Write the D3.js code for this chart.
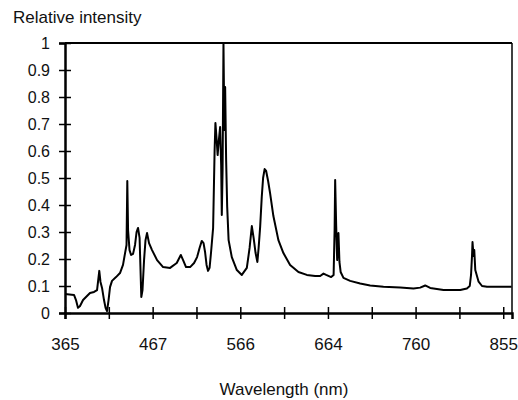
<!DOCTYPE html>
<html>
<head>
<meta charset="utf-8">
<script src="https://cdn.jsdelivr.net/npm/d3@7"></script>
<style>
  body { margin: 0; background: #fff; }
  text { font-family: "Liberation Sans", Arial, sans-serif; fill: #111; }
</style>
</head>
<body>
<svg id="chart" width="518" height="400"></svg>
<script>
// wavelength (nm) and relative intensity
var wavelength = [365, 375.5, 377.8, 380.1, 382.5, 386, 390.6, 394.1, 398.8, 402.3,
  404.9, 406.3, 408.1, 410.4, 412.2, 413.9, 415.7, 417.4, 419.7, 424.4,
  429, 432.5, 434.9, 436.6, 437.5, 438.4, 440.1, 441.9, 444.2, 446.5,
  448.3, 450, 451.8, 453.8, 455.2, 457, 458.7, 460.5, 462.8, 466.3,
  472, 478.8, 486.7, 494.2, 498.8, 501.4, 504.7, 509.3, 513.8, 517.2,
  520, 522.5, 524.5, 526.2, 527.9, 529.6, 531.3, 533, 535.3, 537,
  537.9, 539.3, 540.4, 541.5, 543.2, 544.4, 545.1, 546, 547, 548,
  548.9, 550, 551.2, 552.8, 556.4, 562.1, 567.7, 573.3, 576.4, 578.9,
  580.9, 583.1, 585.1, 586.5, 588.2, 590, 591.5, 593.2, 594.9, 597.1,
  599.3, 603, 608.6, 614.2, 621.7, 631, 640.4, 649.7, 655.3, 659,
  662, 667.5, 670.2, 671.3, 671.9, 673, 674.1, 675.5, 676.6, 677.9,
  681, 688.3, 699.3, 710.2, 724.8, 743.1, 757.7, 765, 770.4, 775.8,
  790.3, 808.4, 815.6, 818.7, 820.1, 821.2, 821.7, 822.8, 823.6, 824.7,
  828.3, 832, 837.4, 851.9, 864.5];
var intensity = [0.070, 0.067, 0.048, 0.019, 0.026, 0.048, 0.063, 0.074, 0.078, 0.085,
  0.156, 0.115, 0.093, 0.048, 0.019, 0.007, 0.048, 0.096, 0.119, 0.133,
  0.148, 0.178, 0.222, 0.252, 0.489, 0.307, 0.233, 0.215, 0.219, 0.252,
  0.300, 0.315, 0.278, 0.059, 0.085, 0.196, 0.270, 0.296, 0.259, 0.233,
  0.196, 0.170, 0.167, 0.185, 0.215, 0.196, 0.170, 0.170, 0.185, 0.207,
  0.241, 0.267, 0.259, 0.226, 0.178, 0.156, 0.167, 0.226, 0.315, 0.604,
  0.704, 0.641, 0.585, 0.630, 0.689, 0.548, 0.363, 0.530, 1.000, 0.678,
  0.837, 0.567, 0.393, 0.270, 0.207, 0.159, 0.141, 0.167, 0.241, 0.322,
  0.278, 0.222, 0.189, 0.241, 0.319, 0.430, 0.500, 0.533, 0.526, 0.489,
  0.444, 0.359, 0.270, 0.222, 0.178, 0.152, 0.141, 0.137, 0.137, 0.146,
  0.141, 0.133, 0.141, 0.307, 0.493, 0.326, 0.196, 0.296, 0.189, 0.152,
  0.130, 0.119, 0.109, 0.102, 0.097, 0.094, 0.091, 0.094, 0.102, 0.093,
  0.085, 0.085, 0.091, 0.100, 0.141, 0.215, 0.263, 0.211, 0.233, 0.159,
  0.116, 0.100, 0.097, 0.097, 0.097];

var xLabels = [365, 467, 566, 664, 760, 855];
var yTicks = [0, 0.1, 0.2, 0.3, 0.4, 0.5, 0.6, 0.7, 0.8, 0.9, 1];

var margin = {top: 43, left: 65},
    width = 447,
    height = 270;

var svg = d3.select("#chart");
var g = svg.append("g")
    .attr("transform", "translate(" + margin.left + "," + margin.top + ")");

// category-like axis: 10 equal steps, labels every other step
var pos = d3.scaleLinear().domain([0, 10.2]).range([0, width]);
var x = d3.scaleLinear()
    .domain(xLabels.concat([865]))
    .range([0, 2, 4, 6, 8, 10, 10.2].map(pos));
var y = d3.scaleLinear().domain([0, 1]).range([height, 0]);

// frame (top + right)
g.append("line").attr("x1", 0).attr("x2", width).attr("y1", 0).attr("y2", 0)
    .attr("stroke", "#000").attr("stroke-width", 2);
g.append("line").attr("x1", width).attr("x2", width).attr("y1", 0).attr("y2", height)
    .attr("stroke", "#000").attr("stroke-width", 1.5);

// spectrum
var pts = wavelength.map(function(d, i) { return [d, intensity[i]]; });
var line = d3.line()
    .x(function(d) { return x(d[0]); })
    .y(function(d) { return y(d[1]); });
g.append("path")
    .datum(pts)
    .attr("d", line)
    .attr("fill", "none")
    .attr("stroke", "#000")
    .attr("stroke-width", 2)
    .attr("stroke-linejoin", "round");

// x axis
var xAxis = g.append("g")
    .attr("transform", "translate(0," + height + ")")
    .call(d3.axisBottom(pos)
      .tickValues(d3.range(0, 11))
      .tickSize(6)
      .tickPadding(19)
      .tickFormat(function(i) { return i % 2 ? "" : xLabels[i / 2]; }));
xAxis.selectAll("line").attr("y1", -6).attr("stroke-width", 1.5);
xAxis.select(".domain").attr("stroke-width", 2.5);
xAxis.selectAll("text").style("font-size", "17px").attr("fill", "#111");

// y axis
var yAxis = g.append("g")
    .call(d3.axisLeft(y)
      .tickValues(yTicks)
      .tickSize(6)
      .tickPadding(9)
      .tickFormat(function(d) { return d; }));
yAxis.selectAll("line").attr("x1", 6).attr("stroke-width", 1.5);
yAxis.select(".domain").attr("stroke-width", 2.5);
yAxis.selectAll("text").style("font-size", "16px").attr("fill", "#111");

// titles
svg.append("text")
    .attr("x", 13).attr("y", 23)
    .style("font-size", "17px")
    .text("Relative intensity");
svg.append("text")
    .attr("x", 284).attr("y", 395)
    .attr("text-anchor", "middle")
    .style("font-size", "17px")
    .text("Wavelength (nm)");
</script>
</body>
</html>
